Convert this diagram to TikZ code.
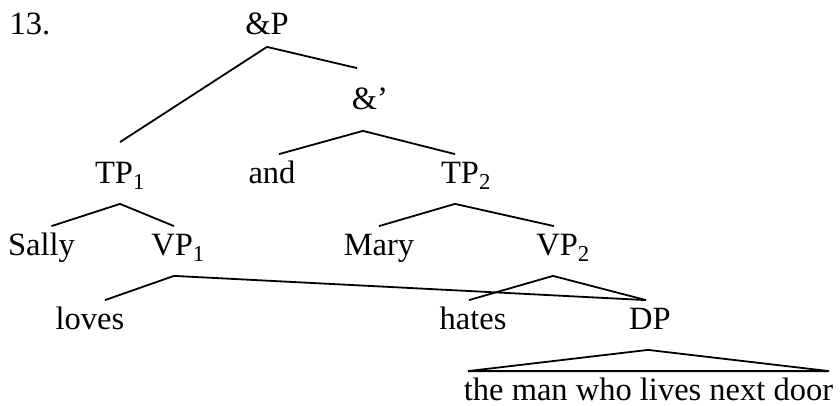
\documentclass[tikz,border=0pt]{standalone}
\usepackage{fontspec}
\setmainfont{Liberation Serif}

\begin{document}
\begin{tikzpicture}[x=1pt, y=-1pt, line width=1.8pt,
		font=\fontsize{32.5}{38}\selectfont,
		cat/.style={anchor=base, inner sep=0pt, text height=28pt, text depth=20pt}]
		\useasboundingbox (0,0) rectangle (840,406);
		
		\node [anchor=base] (num) at (30,35) {13.};
		\node [cat] (andP) at (267,35) {\&P};
		\node [cat] (andbar) at (370,110) {\&’};
		\node [cat] (TP1) at (120,183) {TP\textsubscript{1}};
		\node [cat] (and) at (272,183) {and};
		\node [cat] (TP2) at (466,183) {TP\textsubscript{2}};
		\node [cat] (Sally) at (41.5,255) {Sally};
		\node [cat] (VP1) at (178,255) {VP\textsubscript{1}};
		\node [cat] (Mary) at (379,255) {Mary};
		\node [cat] (VP2) at (563,255) {VP\textsubscript{2}};
		\node [cat] (loves) at (90,329) {loves};
		\node [cat] (hates) at (473,329) {hates};
		\node [cat] (DP) at (650,329) {DP};
		\node [cat, text depth=0pt] (man) at (648.5,400) {the man who lives next door};
		
		\draw ([yshift=9pt]andP.south) -- ([yshift=12pt]TP1.north);
		\draw ([yshift=9pt]andP.south) -- ([xshift=-13pt,yshift=13pt]andbar.north);
		\draw ([xshift=7pt]and.north) -- ([xshift=-7pt]andbar.south) -- ([xshift=-11pt]TP2.north);
		\draw ([xshift=10pt]Sally.north) -- (TP1.south) -- ([xshift=-4pt]VP1.north);
		\draw (Mary.north) -- ([xshift=-11pt]TP2.south) -- ([xshift=-9pt]VP2.north);
		% VP1 and VP2 share the DP
		\draw ([xshift=15pt]loves.north) -- ([xshift=-4pt]VP1.south) -- ([xshift=-4pt]DP.north);
		\draw ([xshift=-4pt]hates.north) -- ([xshift=-10pt]VP2.south) -- ([xshift=-4pt]DP.north);
		\draw ([xshift=-2pt]DP.south) -- ([xshift=5pt]man.north west) -- ([xshift=-5pt]man.north east) -- cycle;
		
	\end{tikzpicture}
\end{document}
